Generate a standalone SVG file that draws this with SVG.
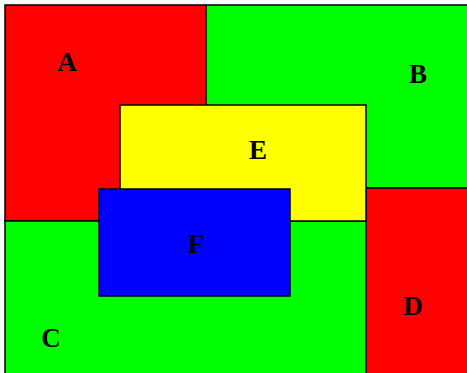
<svg xmlns="http://www.w3.org/2000/svg" width="467" height="373" viewBox="0 0 467 373">
<style>
.box{stroke:#000;stroke-width:1.5}
.red{fill:#ff0000}.green{fill:#00ff00}.yellow{fill:#ffff00}.blue{fill:#0000ff}
text{font-family:"Liberation Serif","Times New Roman",serif;font-weight:bold;font-size:27px;text-anchor:middle;fill:#000}
</style>
<rect x="0" y="0" width="467" height="373" fill="#fff"/>
<g id="A"><rect class="box red" x="5" y="5" width="201" height="216"/><text x="67" y="71">A</text></g>
<g id="B"><rect class="box green" x="206" y="5" width="263" height="183"/><text x="418" y="83">B</text></g>
<g id="C"><rect class="box green" x="5" y="221" width="361" height="154"/><text x="51" y="347">C</text></g>
<g id="D"><rect class="box red" x="366" y="188" width="103" height="187"/><text x="413" y="315">D</text></g>
<g id="E"><rect class="box yellow" x="120" y="105" width="246" height="116"/><text x="258" y="159">E</text></g>
<g id="F"><rect class="box blue" x="99" y="189" width="191" height="107"/><text x="196" y="253">F</text></g>
<g id="connectors"/>
</svg>
